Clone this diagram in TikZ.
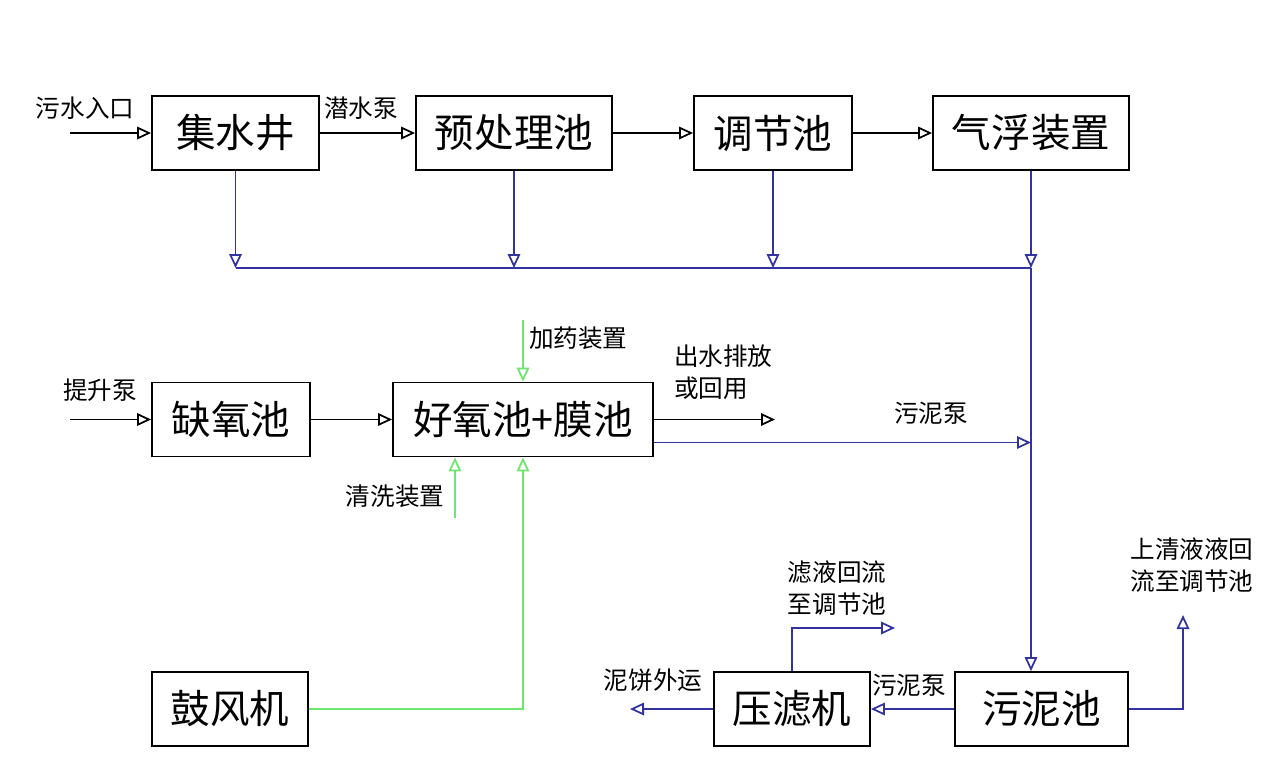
\documentclass[tikz,border=0pt]{standalone}
\usepackage{fontspec}
\setmainfont{Noto Sans CJK SC}
\usetikzlibrary{arrows.meta,positioning}
\definecolor{pipeblue}{RGB}{50,50,160}
\definecolor{airgreen}{RGB}{110,230,110}
\tikzset{
  unit/.style={draw,line width=1pt,minimum height=14.8mm,inner sep=0pt,
    font=\fontsize{22.5}{26}\selectfont},
  lbl/.style={font=\fontsize{14}{18}\selectfont,inner sep=1pt,align=left},
  flow/.style={line width=1pt,-{Triangle[open,length=2.8mm,width=2.5mm]}},
}

\begin{document}
\begin{tikzpicture}[x=0.2mm,y=-0.2mm]

\useasboundingbox[fill=white] (0,0) rectangle (1280,774);

%top row
\node[unit,minimum width=33.4mm] (jsj) at (235.5,133) {集水井};
\node[unit,minimum width=39.2mm] (yclc) at (514,133) {预处理池};
\node[unit,minimum width=31.6mm] (tjc) at (773,133) {调节池};
\node[unit,minimum width=39.2mm] (qf) at (1031,133) {气浮装置};

\coordinate (in1) at (70,133);
\draw[flow] (in1) -- (jsj.west);
\draw[flow] (jsj) -- (yclc);
\draw[flow] (yclc) -- (tjc);
\draw[flow] (tjc) -- (qf);
\node[lbl] (l1) at (85,108) {污水入口};
\node[lbl] (l2) at (361,108) {潜水泵};

%sludge collection
\coordinate (bus) at (0,268);
\foreach \n in {jsj,yclc,tjc,qf}
  \draw[flow,pipeblue] (\n.south) -- (\n.south |- bus);
\draw[line width=1pt,pipeblue] (jsj.south |- bus) -- (qf.south |- bus);

%middle row
\node[unit,minimum width=31.6mm] (qyc) at (231,419.5) {缺氧池};
\node[unit,minimum width=52mm] (hyc) at (523,419.5) {好氧池+膜池};

\coordinate (in2) at (70,419.5);
\draw[flow] (in2) -- (qyc.west);
\draw[flow] (qyc) -- (hyc);
\coordinate (out) at (775,419.5);
\draw[flow] (hyc.east) -- (out);
\node[lbl] (l3) at (100,390) {提升泵};
\node[lbl,anchor=north west] (l4) at (672,343) {出水排放\\或回用};

\coordinate (dose) at (523,320);
\draw[flow,airgreen] (dose) -- (hyc.north);
\node[lbl,anchor=west] (l5) at (527,338) {加药装置};
\coordinate (wash) at (455,518);
\draw[flow,airgreen] (wash) -- (wash |- hyc.south);
\node[lbl] (l6) at (395,496) {清洗装置};

\coordinate (mud) at ([yshift=-4.6mm]hyc.east);
\draw[flow,pipeblue] (mud) -- (mud -| qf.south);
\node[lbl] (l7) at (931,413) {污泥泵};

%bottom row
\node[unit,minimum width=31.2mm] (gfj) at (230,709) {鼓风机};
\node[unit,minimum width=31.2mm] (ylj) at (792,709) {压滤机};
\node[unit,minimum width=34.6mm] (wnc) at (1041.5,709) {污泥池};

\draw[flow,airgreen] (gfj.east) -| (hyc.south);
\draw[flow,pipeblue] (qf.south |- bus) -- (qf.south |- wnc.north);
\draw[flow,pipeblue] (wnc.west) -- (ylj.east);
\node[lbl] (l8) at (909,685) {污泥泵};
\coordinate (cake) at (630,709);
\draw[flow,pipeblue] (ylj.west) -- (cake);
\node[lbl] (l9) at (653,680) {泥饼外运};

\coordinate (filt) at (895,628);
\draw[flow,pipeblue] (ylj.north) |- (filt);
\node[lbl] (l10) at (837,588) {滤液回流\\至调节池};
\coordinate (sup) at (1183,615);
\draw[flow,pipeblue] (wnc.east) -| (sup);
\node[lbl] (l11) at (1192,565) {上清液液回\\流至调节池};

\end{tikzpicture}
\end{document}
